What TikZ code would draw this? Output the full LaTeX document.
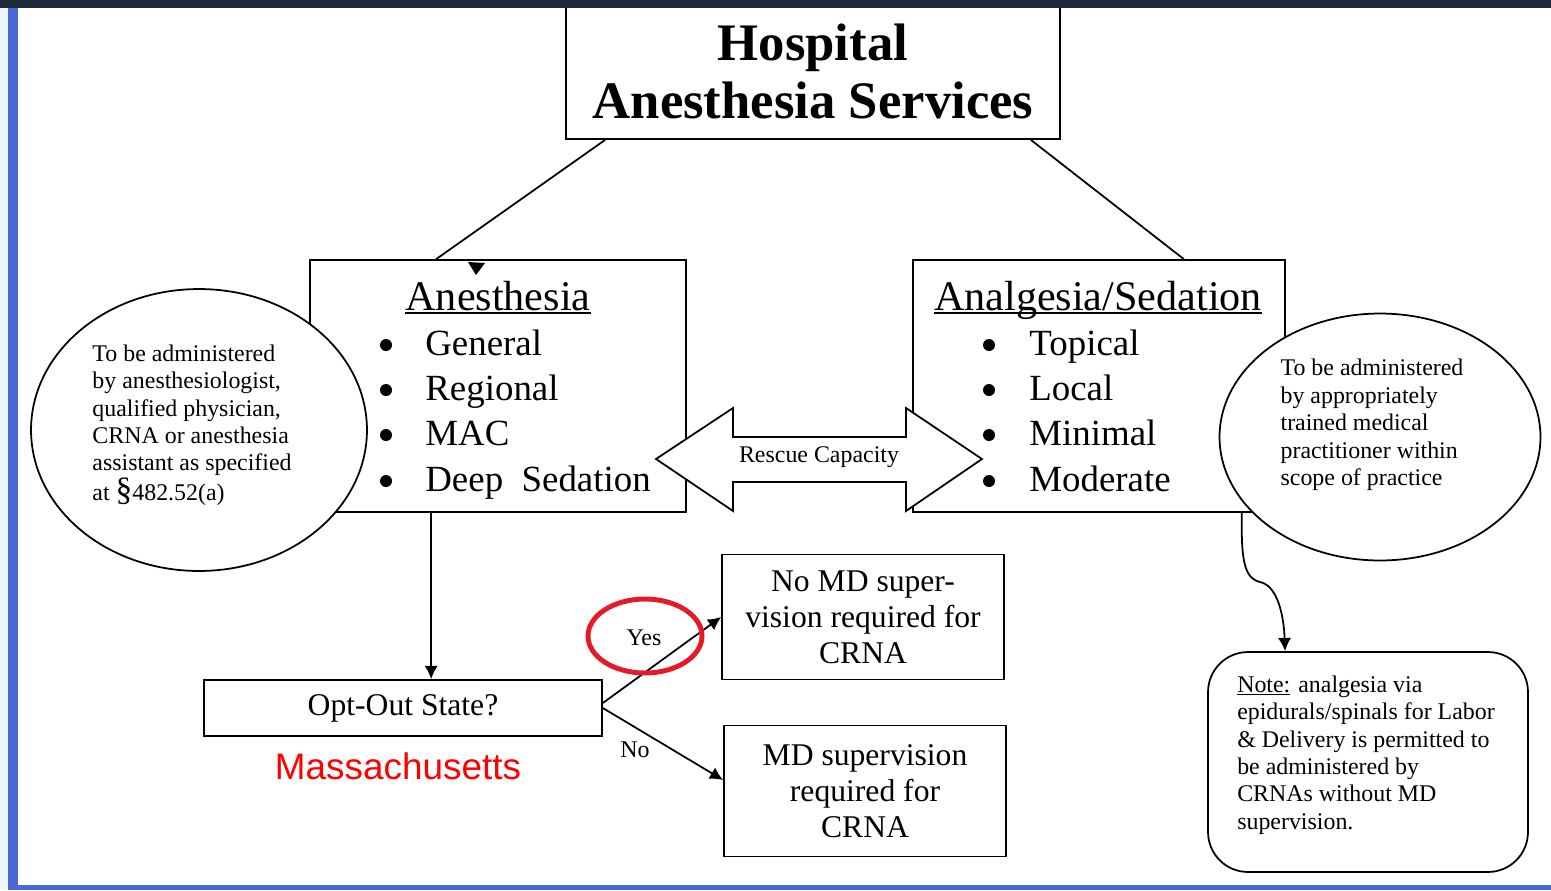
\documentclass[tikz,border=0pt]{standalone}
\usepackage{fontspec}
\setmainfont{Liberation Serif}
\newfontfamily\arialfont{Liberation Sans}
\usetikzlibrary{shapes.geometric,arrows.meta}
\definecolor{barnavy}{RGB}{31,42,59}
\definecolor{barblue}{RGB}{72,104,216}
\definecolor{barpale}{RGB}{238,246,255}
\definecolor{ringred}{RGB}{228,26,38}
\newlength\ulwd
\newcommand\ultext[1]{\settowidth{\ulwd}{#1}\rlap{\rule[-0.1em]{\ulwd}{0.045em}}#1}
\begin{document}
\begin{tikzpicture}[>={Latex[length=7.5pt,width=7.5pt]},x=0.02cm,y=-0.02cm,
  box/.style={draw,line width=1pt,fill=white,inner sep=0pt},
  oval/.style={draw,ellipse,line width=1pt,fill=white,inner sep=0pt},
  link/.style={line width=1pt},
  head/.style={anchor=base,inner sep=0pt,font=\fontsize{24}{28}\selectfont},
  item/.style={anchor=base west,inner sep=0pt,font=\fontsize{21}{25}\selectfont},
  small/.style={align=left,inner sep=0pt,font=\fontsize{13.6}{15.6}\selectfont},
  crna/.style={align=center,font=\fontsize{18}{20.5}\selectfont}]
\useasboundingbox (0,0) rectangle (1551,890);
% top box
\node[box,align=center,minimum width=9.88cm,minimum height=2.72cm,
  font=\bfseries\fontsize{30}{33}\selectfont] (hosp) at (813,71) {Hospital\\Anesthesia Services};
% anesthesia
\node[box,minimum width=7.52cm,minimum height=5.04cm] (anes) at (498,386) {};
\node[head] (aneshd) at (498,310) {\ultext{Anesthesia}};
\fill (386,345) circle (6); \node[item] (ai1) at (425,355) {General};
\fill (386,390) circle (6); \node[item] (ai2) at (425,400) {Regional};
\fill (386,435) circle (6); \node[item] (ai3) at (425,445) {MAC};
\fill (386,481) circle (6); \node[item] (ai4) at (425,491) {Deep\ \ Sedation};
% analgesia
\node[box,minimum width=7.44cm,minimum height=5.04cm] (anal) at (1099,386) {};
\node[head] (analhd) at (1098,310) {\ultext{Analgesia/Sedation}};
\fill (989,345) circle (6); \node[item] (si1) at (1029,355) {Topical};
\fill (989,390) circle (6); \node[item] (si2) at (1029,400) {Local};
\fill (989,435) circle (6); \node[item] (si3) at (1029,445) {Minimal};
\fill (989,481) circle (6); \node[item] (si4) at (1029,491) {Moderate};
% side ovals
\node[oval,minimum width=6.72cm,minimum height=5.64cm] (lell) at (199,430) {};
\node[small] (ltxt) at (192,425) {To be administered\\by anesthesiologist,\\qualified physician,\\CRNA or anesthesia\\assistant as specified\\at {\fontsize{19}{15.6}\selectfont\S}482.52(a)};
\node[oval,minimum width=6.42cm,minimum height=4.94cm] (rell) at (1380,437) {};
\node[small] (rtxt) at (1372,425) {To be administered\\by appropriately\\trained medical\\practitioner within\\scope of practice};
% rescue arrow
\filldraw[link,fill=white] (656,459) -- (733,408) -- (733,437) -- (906,437) -- (906,408) -- (982,459)
  -- (906,511) -- (906,482) -- (733,482) -- (733,511) -- cycle;
\node[font=\fontsize{13.6}{15}\selectfont] (rescue) at (819,457) {Rescue Capacity};
\draw[link] ([xshift=0.8cm]hosp.south west) -- ([xshift=2.54cm]anes.north west);
\draw[link] ([xshift=-0.6cm]hosp.south east) -- ([xshift=-2.04cm]anal.north east);
\fill (468,262) -- (485,263) -- (476,275) -- cycle;
% opt-out
\node[box,minimum width=7.96cm,minimum height=1.12cm,font=\fontsize{18}{20}\selectfont] (opt) at (403,708) {Opt-Out State?};
\node[text=red,font=\arialfont\fontsize{21}{25}\selectfont] (mass) at (398,766) {Massachusetts};
\coordinate (drop) at ([xshift=2.44cm]anes.south west);
\draw[link,->] (drop) -- (drop |- opt.north);
\node[box,crna,minimum width=5.64cm,minimum height=2.5cm] (nomd) at (863,617) {No MD super-\\vision required for\\CRNA};
\node[box,crna,minimum width=5.64cm,minimum height=2.62cm] (md) at (865,791) {MD supervision\\required for\\CRNA};
\draw[link,->] ([yshift=0.1cm]opt.east) -- (nomd.west);
\draw[link,->] (opt.east) -- ([yshift=0.22cm]md.west);
\node[font=\fontsize{13.6}{15}\selectfont] (yes) at (644,638) {Yes};
\node[draw=ringred,ellipse,line width=2.8pt,minimum width=2.28cm,minimum height=1.48cm] (ring) at (645,636) {};
\node[font=\fontsize{13.6}{15}\selectfont] (no) at (635,750) {No};
% note
\node[box,rounded corners=0.8cm,minimum width=6.4cm,minimum height=4.4cm] (note) at (1368,762) {};
\node[small] (notetxt) at (1366,755) {\ultext{Note:} analgesia via\\epidurals/spinals for Labor\\\& Delivery is permitted to\\be administered by\\CRNAs without MD\\supervision.};
\draw[link,->] ([xshift=-0.88cm]anal.south east) .. controls (1241,560) and (1244,578) .. (1260,582)
  .. controls (1279,586) and (1284,620) .. ([xshift=-1.66cm]note.north);
% frame
\fill[barnavy] (0,0) rectangle (1551,8);
\fill[barpale] (0,8) rectangle (8,890);
\fill[barblue] (8,8) rectangle (18,890);
\fill[barblue] (8,885) rectangle (1551,890);
\end{tikzpicture}
\end{document}
